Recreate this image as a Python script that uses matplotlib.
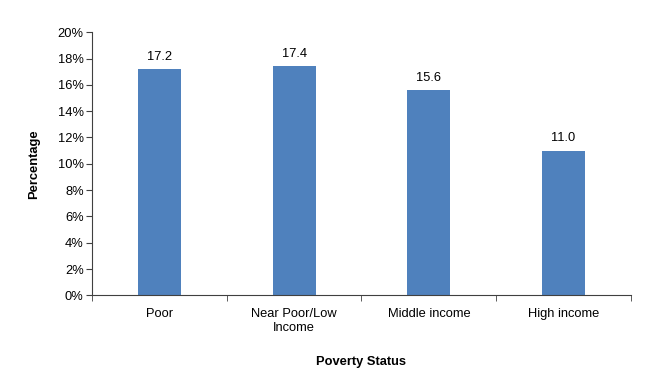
import numpy as np
import matplotlib
matplotlib.use('Agg')
import matplotlib.pyplot as plt
from matplotlib.ticker import FuncFormatter

plt.rcParams['font.family'] = ['Liberation Sans', 'DejaVu Sans']

categories = ['Poor', 'Near Poor/Low\nIncome', 'Middle income', 'High income']
values = [17.2, 17.4, 15.6, 11.0]

fig = plt.figure(figsize=(6.54, 3.75), dpi=100)
ax = fig.add_axes([0.1407, 0.2125, 0.8241, 0.7014])

x = np.arange(len(categories))
bars = ax.bar(x, values, width=0.32, color='#4F81BD')
for b, v in zip(bars, values):
    ax.text(b.get_x() + b.get_width() / 2, v + 0.5, f'{v:.1f}',
            ha='center', va='bottom', fontsize=9.3)

ax.set_xlim(-0.5, len(categories) - 0.5)
ax.set_ylim(0, 20)
ax.set_yticks(np.arange(0, 21, 2))
ax.yaxis.set_major_formatter(FuncFormatter(lambda v, p: f'{v:.0f}%'))

ax.set_xticks(x)
ax.set_xticklabels(categories, fontsize=9.3, linespacing=1.2, multialignment='center')
ax.set_xticks(np.arange(-0.5, len(categories)), minor=True)
ax.tick_params(axis='x', which='major', length=0, pad=9)
ax.tick_params(axis='x', which='minor', length=4, direction='out', color='#404040')
ax.tick_params(axis='y', length=4, direction='out', labelsize=9.3, color='#404040', pad=2)

for s in ['top', 'right']:
    ax.spines[s].set_visible(False)
for s in ['left', 'bottom']:
    ax.spines[s].set_color('#404040')
    ax.spines[s].set_linewidth(0.8)

ax.set_xlabel('Poverty Status', fontsize=9.3, fontweight='bold', labelpad=16)
ax.set_ylabel('Percentage', fontsize=9.3, fontweight='bold', labelpad=13)

fig.savefig('out.png', dpi=100)
